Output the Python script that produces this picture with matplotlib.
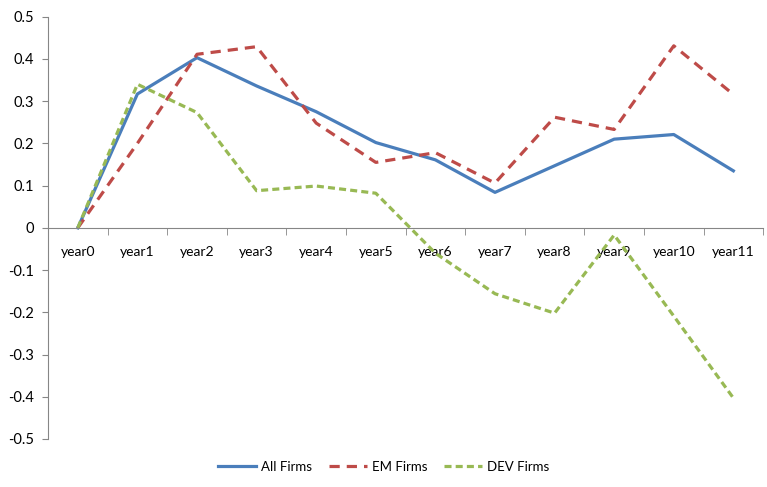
import matplotlib
matplotlib.use("Agg")
import matplotlib.pyplot as plt
import numpy as np

categories = ["year0", "year1", "year2", "year3", "year4", "year5",
              "year6", "year7", "year8", "year9", "year10", "year11"]
all_firms = [0.0, 0.317, 0.403, 0.336, 0.275, 0.202, 0.161, 0.084, 0.147, 0.210, 0.221, 0.135]
em_firms = [0.0, 0.200, 0.411, 0.429, 0.248, 0.155, 0.178, 0.106, 0.262, 0.233, 0.431, 0.316]
dev_firms = [0.0, 0.340, 0.273, 0.088, 0.099, 0.082, -0.060, -0.156, -0.202, -0.017, -0.209, -0.403]
y_ticks = [-0.5, -0.4, -0.3, -0.2, -0.1, 0, 0.1, 0.2, 0.3, 0.4, 0.5]

plt.rcParams['font.family'] = ['Lato', 'DejaVu Sans']

fig = plt.figure(figsize=(7.67, 4.87), dpi=100)
ax = fig.add_axes([0.0626, 0.0986, 0.9324, 0.8671])

x = np.arange(len(categories))
ax.plot(x, all_firms, color='#4A7EBB', lw=2.3, label='All Firms', solid_joinstyle='round')
ax.plot(x, em_firms, color='#BE4B48', lw=2.3, dashes=(3.2, 2.2), label='EM Firms')
ax.plot(x, dev_firms, color='#98B954', lw=2.3, dashes=(2.2, 1.3), label='DEV Firms')

ax.set_xlim(-0.5, len(categories) - 0.5)
ax.set_ylim(-0.5, 0.5)
ax.set_yticks(y_ticks)
ax.set_yticklabels([f"{v:g}" for v in y_ticks], fontsize=10.5)
ax.tick_params(axis='y', length=4, color='#868686', pad=6)

ax.set_xticks(x)
ax.set_xticklabels(categories, fontsize=9.5)
ax.tick_params(axis='x', which='major', length=0, pad=13)
ax.set_xticks(np.arange(-0.5, len(categories)), minor=True)
ax.tick_params(axis='x', which='minor', length=5, color='#868686', direction='out')

for s in ['top', 'right']:
    ax.spines[s].set_visible(False)
ax.spines['bottom'].set_position(('data', 0))
ax.spines['bottom'].set_color('#868686')
ax.spines['left'].set_color('#868686')

fig.legend(loc='center', bbox_to_anchor=(0.5, 0.041), ncol=3, frameon=False,
           fontsize=9.5, handlelength=2.9, columnspacing=1.3, handletextpad=0.35)

fig.savefig('out.png', dpi=100)
